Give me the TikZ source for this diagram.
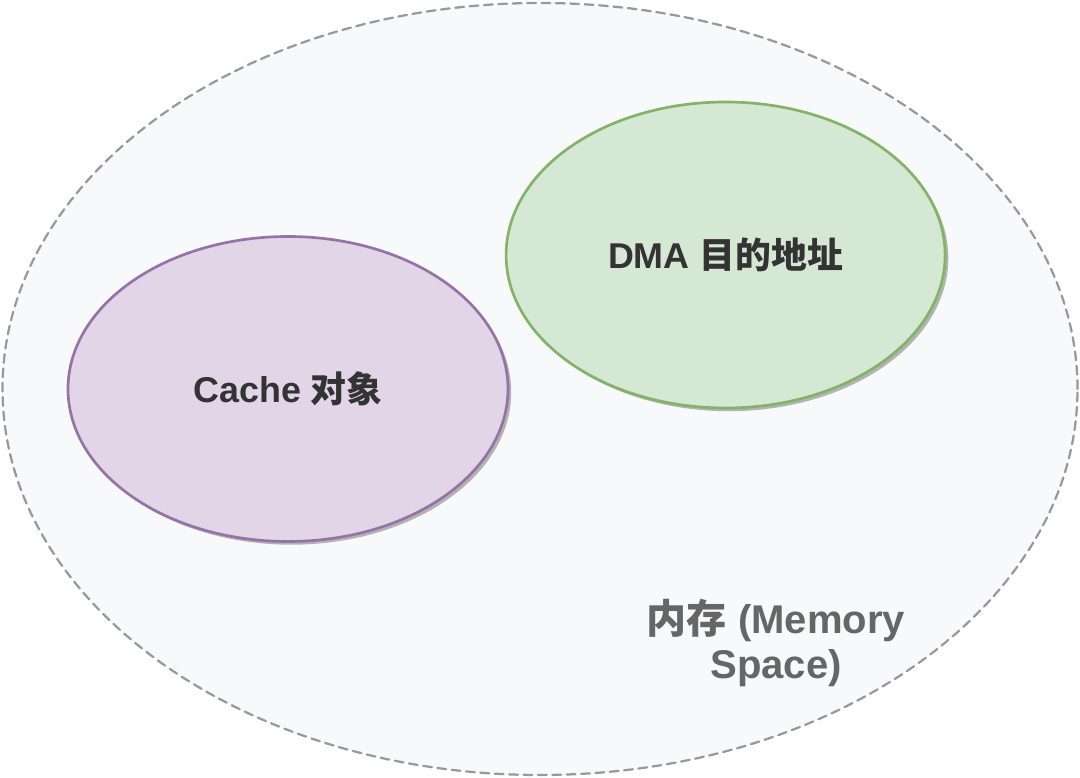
\documentclass[tikz,border=0pt]{standalone}
\usepackage{fontspec}
\setmainfont{Liberation Sans}
\newfontfamily\cjk{Noto Sans CJK SC}
\usetikzlibrary{shapes.geometric}

\definecolor{memfill}{HTML}{F8F9FA}
\definecolor{memline}{HTML}{999999}
\definecolor{cachefill}{HTML}{E1D5E7}
\definecolor{cacheline}{HTML}{9673A6}
\definecolor{dmafill}{HTML}{D5E8D4}
\definecolor{dmaline}{HTML}{82B366}
\definecolor{shadowgray}{HTML}{B3B3B3}
\definecolor{labeltext}{HTML}{333333}
\definecolor{memtext}{HTML}{666666}

\tikzset{
  region/.style={ellipse, inner sep=0pt, line width=1.9pt,
    preaction={fill=shadowgray, transform canvas={shift={(0.08,-0.08)}}}},
  bigtext/.style={font=\fontsize{25.5}{31}\selectfont\bfseries, align=center},
  memtextstyle/.style={font=\fontsize{28.5}{31.5}\selectfont\bfseries, align=center}
}

\begin{document}
\begin{tikzpicture}[line cap=round, line join=round]
  \useasboundingbox (0,0) rectangle (27,19.425);

  \node[ellipse, draw=memline, fill=memfill, line width=1.6pt,
        dash pattern=on 0.22cm off 0.14cm,
        minimum width=26.875cm, minimum height=19.3cm] (mem) at (13.5,9.7) {};

  \node[region, draw=cacheline, fill=cachefill,
        minimum width=11cm, minimum height=7.625cm] (cache) at (7.2,9.7) {};
  \node[region, draw=dmaline, fill=dmafill,
        minimum width=10.975cm, minimum height=7.65cm] (dma) at (18.14,13.05) {};

  \node[bigtext, text=labeltext] at (cache.center) {Cache {\cjk 对象}};
  \node[bigtext, text=labeltext] at (dma.center) {DMA {\cjk 目的地址}};
  \node[memtextstyle, text=memtext] (memlabel) at (19.4,3.35) {{\cjk 内存} (Memory\\Space)};
\end{tikzpicture}
\end{document}
